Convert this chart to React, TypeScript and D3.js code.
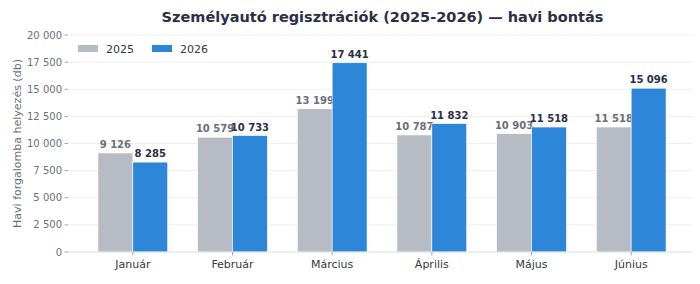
import { useEffect, useRef } from "react";
import * as d3 from "d3";

const months = ["Január", "Február", "Március", "Április", "Május", "Június"];
const series = ["2025", "2026"];
const values2025 = [9126, 10579, 13199, 10787, 10903, 11518];
const values2026 = [8285, 10733, 17441, 11832, 11518, 15096];
const yTicks = [0, 2500, 5000, 7500, 10000, 12500, 15000, 17500, 20000];

const colors = { "2025": "#b7bbc3", "2026": "#2e86d8" };
const labelColors = { "2025": "#6b6f78", "2026": "#2b2f45" };

export default function App() {
  const ref = useRef<SVGSVGElement>(null);

  useEffect(() => {
    const width = 700;
    const height = 284;
    const m = { left: 68, right: 2, top: 35, bottom: 32 };

    const svg = d3.select(ref.current)
      .attr("width", width)
      .attr("height", height)
      .style("font-family", "DejaVu Sans, sans-serif");
    svg.selectAll("*").remove();

    // space as thousands separator, like the original
    const fmt = d3.formatLocale({ decimal: ",", thousands: "\u00a0", grouping: [3], currency: ["", " Ft"] }).format(",d");

    const x = d3.scaleBand<string>()
      .domain(months)
      .range([m.left + 15, width - m.right - 15 - 2])
      .paddingInner(0.3)
      .paddingOuter(0.15);
    const xs = d3.scaleBand<string>().domain(series).range([0, x.bandwidth()]);
    const y = d3.scaleLinear().domain([0, 20000]).range([height - m.bottom, m.top]);

    const x0 = m.left;
    const x1 = width - m.right - 1;

    // grid
    svg.append("g")
      .selectAll("line")
      .data(yTicks.filter(t => t > 0))
      .join("line")
      .attr("x1", x0).attr("x2", x1)
      .attr("y1", d => y(d)).attr("y2", d => y(d))
      .attr("stroke", "#eceef1").attr("stroke-width", 1);

    // bars + value labels
    const rows = months.map((mo, i) => ({ month: mo, "2025": values2025[i], "2026": values2026[i] }));
    const g = svg.append("g");
    rows.forEach(r => {
      series.forEach(s => {
        const v = r[s as "2025" | "2026"];
        const bx = (x(r.month) ?? 0) + (xs(s) ?? 0);
        g.append("rect")
          .attr("x", bx)
          .attr("y", y(v))
          .attr("width", xs.bandwidth())
          .attr("height", y(0) - y(v))
          .attr("fill", colors[s as "2025" | "2026"])
          .attr("stroke", "#ffffff").attr("stroke-width", 0.6);
        g.append("text")
          .attr("x", bx + xs.bandwidth() / 2)
          .attr("y", y(v) - 5)
          .attr("text-anchor", "middle")
          .attr("font-size", 10)
          .attr("font-weight", "bold")
          .attr("fill", labelColors[s as "2025" | "2026"])
          .text(fmt(v));
      });
    });

    // x axis
    svg.append("line")
      .attr("x1", x0).attr("x2", x1)
      .attr("y1", y(0)).attr("y2", y(0))
      .attr("stroke", "#d9dce1").attr("stroke-width", 1);
    const xa = svg.append("g");
    months.forEach(mo => {
      const cx = (x(mo) ?? 0) + x.bandwidth() / 2;
      xa.append("line").attr("x1", cx).attr("x2", cx).attr("y1", y(0)).attr("y2", y(0) + 3.5)
        .attr("stroke", "#8a8f98").attr("stroke-width", 0.8);
      xa.append("text").attr("x", cx).attr("y", y(0) + 16).attr("text-anchor", "middle")
        .attr("font-size", 11).attr("fill", "#333846").text(mo);
    });

    // y axis
    const ya = svg.append("g");
    yTicks.forEach(t => {
      ya.append("line").attr("x1", x0 - 3.5).attr("x2", x0).attr("y1", y(t)).attr("y2", y(t))
        .attr("stroke", "#8a8f98").attr("stroke-width", 0.8);
      ya.append("text").attr("x", x0 - 6).attr("y", y(t)).attr("dy", "0.35em")
        .attr("text-anchor", "end").attr("font-size", 10).attr("fill", "#6b6f78").text(fmt(t));
    });

    svg.append("text")
      .attr("transform", `translate(21,${(y(0) + y(20000)) / 2}) rotate(-90)`)
      .attr("text-anchor", "middle")
      .attr("font-size", 11)
      .attr("fill", "#6b6f78")
      .text("Havi forgalomba helyezés (db)");

    // title
    svg.append("text")
      .attr("x", (x0 + x1) / 2)
      .attr("y", 22)
      .attr("text-anchor", "middle")
      .attr("font-size", 14.5)
      .attr("font-weight", "bold")
      .attr("fill", "#2b2f45")
      .text("Személyautó regisztrációk (2025-2026) — havi bontás");

    // legend
    const lg = svg.append("g");
    series.forEach((s, i) => {
      const lx = 78 + i * 74;
      lg.append("rect").attr("x", lx).attr("y", 45).attr("width", 20).attr("height", 7)
        .attr("fill", colors[s as "2025" | "2026"]);
      lg.append("text").attr("x", lx + 28).attr("y", 49).attr("dy", "0.35em")
        .attr("font-size", 11).attr("fill", "#333846").text(s);
    });
  }, []);

  return <svg ref={ref} style={{ display: "block", margin: -8 }} />;
}
